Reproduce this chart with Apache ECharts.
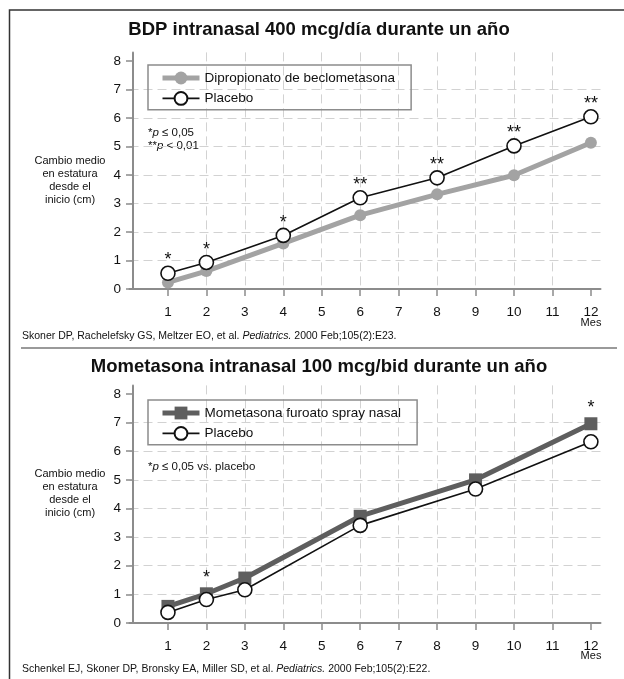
<!DOCTYPE html>
<html>
<head>
<meta charset="utf-8">
<script src="https://cdn.jsdelivr.net/npm/echarts@6/dist/echarts.min.js"></script>
<style>
  html, body { margin: 0; padding: 0; background: #fff; }
  #chart { width: 624px; height: 679px; }
</style>
</head>
<body>
<div id="chart"></div>
<script>
// Upper panel: BDP intranasal vs placebo
const monthsBdp = [1, 2, 4, 6, 8, 10, 12];
const bdp = [0.23, 0.63, 1.6, 2.59, 3.32, 3.99, 5.13];
const placeboBdp = [0.55, 0.93, 1.88, 3.2, 3.9, 5.02, 6.04];
const sigBdp = ['*', '*', '*', '**', '**', '**', '**'];

// Lower panel: mometasona vs placebo
const monthsMom = [1, 2, 3, 6, 9, 12];
const mometasona = [0.58, 1.02, 1.57, 3.73, 5.0, 6.96];
const placeboMom = [0.37, 0.82, 1.16, 3.41, 4.68, 6.33];
const sigMom = ['', '*', '', '', '', '*'];

// Axis ticks
const monthTicks = [1, 2, 3, 4, 5, 6, 7, 8, 9, 10, 11, 12];
const heightTicks = [0, 1, 2, 3, 4, 5, 6, 7, 8];

const FONT = '"Liberation Sans", Arial, sans-serif';
const AXIS_COLOR = '#8c8c8c';
const GRID_COLOR = '#d2d2d2';

const pairs = (xs, ys) => xs.map((x, i) => [x, ys[i]]);

function xAxisFor(gridIndex) {
  return {
    type: 'value', gridIndex, min: 0, max: 12.25, interval: 1,
    axisLine: { lineStyle: { color: AXIS_COLOR, width: 2 } },
    axisTick: { show: true, length: 7, customValues: monthTicks, lineStyle: { color: AXIS_COLOR, width: 1.5 } },
    axisLabel: {
      customValues: monthTicks, margin: 16,
      color: '#111', fontSize: 13.5, fontFamily: FONT
    },
    splitLine: {
      show: true, showMinLine: false, showMaxLine: false,
      lineStyle: { color: GRID_COLOR, width: 1, type: [9, 5] }
    }
  };
}

function yAxisFor(gridIndex) {
  return {
    type: 'value', gridIndex, min: 0, max: 8.3, interval: 1, offset: -3.5,
    axisLine: { show: true, lineStyle: { color: AXIS_COLOR, width: 2 } },
    axisTick: { show: true, length: 7, customValues: heightTicks, lineStyle: { color: AXIS_COLOR, width: 1.5 } },
    axisLabel: {
      customValues: heightTicks, margin: 12,
      color: '#111', fontSize: 13.5, fontFamily: FONT
    },
    splitLine: {
      show: true, showMinLine: false, showMaxLine: false,
      lineStyle: { color: GRID_COLOR, width: 1, type: [9, 5] }
    }
  };
}

function legendFor(top, items) {
  return {
    left: 148, top, orient: 'vertical',
    data: items,
    itemWidth: 37, itemHeight: 16, itemGap: 6,
    padding: [6, 16, 4, 12],
    borderColor: '#8c8c8c', borderWidth: 1.5,
    textStyle: { color: '#111', fontSize: 13.5, fontFamily: FONT },
    selectedMode: false
  };
}

function starLabel(sig, dy) {
  return {
    show: true, position: 'top', distance: 3, offset: [0, dy],
    formatter: p => sig[p.dataIndex],
    color: '#111', fontSize: 18, fontFamily: FONT
  };
}

const richText = {
  n: { fontSize: 11.5, fontFamily: FONT, fill: '#111' },
  i: { fontSize: 11.5, fontFamily: FONT, fontStyle: 'italic', fill: '#111' }
};
const citeRich = {
  n: { fontSize: 10.5, fontFamily: FONT, fill: '#111' },
  i: { fontSize: 10.5, fontFamily: FONT, fontStyle: 'italic', fill: '#111' }
};

function text(x, y, str, opts) {
  return { type: 'text', x, y, silent: true, style: Object.assign({ text: str, fill: '#111', fontFamily: FONT }, opts) };
}

const yName = 'Cambio medio\nen estatura\ndesde el\ninicio (cm)';

const option = {
  animation: false,
  backgroundColor: '#fff',
  grid: [
    { left: 129.5, right: 23.5, top: 52.4, bottom: 390 },
    { left: 129.5, right: 23.5, top: 385.4, bottom: 56 }
  ],
  xAxis: [xAxisFor(0), xAxisFor(1)],
  yAxis: [yAxisFor(0), yAxisFor(1)],
  legend: [
    legendFor(65, [
      { name: 'Dipropionato de beclometasona', lineStyle: { width: 5 } },
      { name: 'Placebo', lineStyle: { width: 1.6 } }
    ]),
    legendFor(400, [
      { name: 'Mometasona furoato spray nasal', lineStyle: { width: 5 } },
      { name: 'Placebo ', lineStyle: { width: 1.6 } }
    ])
  ],
  series: [
    {
      name: 'Dipropionato de beclometasona', type: 'line', xAxisIndex: 0, yAxisIndex: 0,
      data: pairs(monthsBdp, bdp),
      symbol: 'circle', symbolSize: 12,
      lineStyle: { color: '#a3a3a3', width: 5 },
      itemStyle: { color: '#a3a3a3', borderWidth: 0 },
      z: 2
    },
    {
      name: 'Placebo', type: 'line', xAxisIndex: 0, yAxisIndex: 0,
      data: pairs(monthsBdp, placeboBdp),
      symbol: 'circle', symbolSize: 14,
      lineStyle: { color: '#111', width: 1.6 },
      itemStyle: { color: '#fff', borderColor: '#111', borderWidth: 1.6 },
      label: starLabel(sigBdp, 7),
      z: 3
    },
    {
      name: 'Mometasona furoato spray nasal', type: 'line', xAxisIndex: 1, yAxisIndex: 1,
      data: pairs(monthsMom, mometasona),
      symbol: 'rect', symbolSize: 13,
      lineStyle: { color: '#5e5e5e', width: 5 },
      itemStyle: { color: '#5e5e5e', borderWidth: 0 },
      label: starLabel(sigMom, 3),
      z: 2
    },
    {
      name: 'Placebo ', type: 'line', xAxisIndex: 1, yAxisIndex: 1,
      data: pairs(monthsMom, placeboMom),
      symbol: 'circle', symbolSize: 14,
      lineStyle: { color: '#111', width: 1.6 },
      itemStyle: { color: '#fff', borderColor: '#111', borderWidth: 1.6 },
      z: 3
    }
  ],
  graphic: [
    // outer frame (left and top edges)
    { type: 'polyline', silent: true, shape: { points: [[9.5, 679], [9.5, 10], [624, 10]] },
      style: { stroke: '#333', lineWidth: 1.5, fill: null } },
    // separator between the two panels
    { type: 'line', silent: true, shape: { x1: 21, y1: 348, x2: 617, y2: 348 },
      style: { stroke: '#9a9a9a', lineWidth: 2 } },

    text(319, 30, 'BDP intranasal 400 mcg/día durante un año',
      { fontSize: 18.5, fontWeight: 'bold', align: 'center', verticalAlign: 'middle' }),
    text(319, 367, 'Mometasona intranasal 100 mcg/bid durante un año',
      { fontSize: 18.5, fontWeight: 'bold', align: 'center', verticalAlign: 'middle' }),

    text(70, 154, yName, { fontSize: 11, align: 'center', verticalAlign: 'top', lineHeight: 13 }),
    text(70, 467, yName, { fontSize: 11, align: 'center', verticalAlign: 'top', lineHeight: 13 }),

    text(148, 126, '{n|*}{i|p}{n| ≤ 0,05}\n{n|**}{i|p}{n| < 0,01}',
      { rich: richText, lineHeight: 13, verticalAlign: 'top' }),
    text(148, 461, '{n|*}{i|p}{n| ≤ 0,05 vs. placebo}',
      { rich: richText, verticalAlign: 'top' }),

    text(591, 323, 'Mes', { fontSize: 11, align: 'center', verticalAlign: 'middle' }),
    text(591, 656, 'Mes', { fontSize: 11, align: 'center', verticalAlign: 'middle' }),

    text(22, 336, '{n|Skoner DP, Rachelefsky GS, Meltzer EO, et al. }{i|Pediatrics.}{n| 2000 Feb;105(2):E23.}',
      { rich: citeRich, verticalAlign: 'middle' }),
    text(22, 669, '{n|Schenkel EJ, Skoner DP, Bronsky EA, Miller SD, et al. }{i|Pediatrics.}{n| 2000 Feb;105(2):E22.}',
      { rich: citeRich, verticalAlign: 'middle' })
  ]
};

const chart = echarts.init(document.getElementById('chart'), null, { renderer: 'canvas' });
chart.setOption(option);
</script>
</body>
</html>
